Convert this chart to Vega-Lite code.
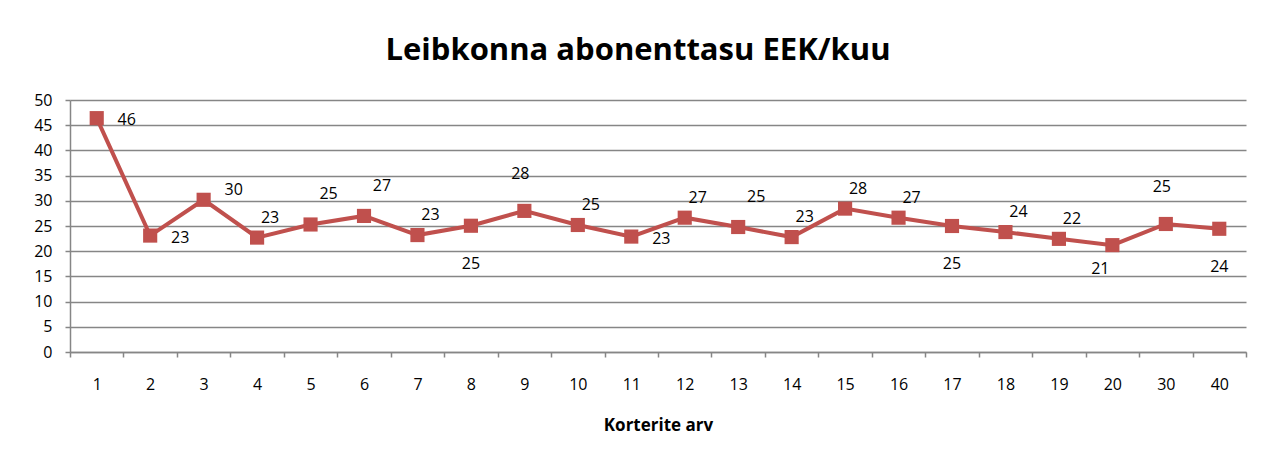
{
  "$schema": "https://vega.github.io/schema/vega-lite/v6.json",
  "autosize": {"type": "none"},
  "width": 1176,
  "height": 252,
  "padding": {"left": 70, "top": 100, "right": 25, "bottom": 105},
  "background": "white",
  "config": {
    "font": "Open Sans",
    "view": {"stroke": null}
  },
  "title": {
    "text": "Leibkonna abonenttasu EEK/kuu",
    "font": "Open Sans",
    "fontSize": 31,
    "fontWeight": "bold",
    "color": "black",
    "anchor": "middle",
    "dx": -20,
    "offset": 25
  },
  "data": {
    "values": [
      {"k": "1", "v": 46.4},
      {"k": "2", "v": 23.1},
      {"k": "3", "v": 30.2},
      {"k": "4", "v": 22.7},
      {"k": "5", "v": 25.3},
      {"k": "6", "v": 27.0},
      {"k": "7", "v": 23.2},
      {"k": "8", "v": 25.05},
      {"k": "9", "v": 28.0},
      {"k": "10", "v": 25.2},
      {"k": "11", "v": 22.9},
      {"k": "12", "v": 26.65},
      {"k": "13", "v": 24.8},
      {"k": "14", "v": 22.8},
      {"k": "15", "v": 28.45},
      {"k": "16", "v": 26.65},
      {"k": "17", "v": 25.0},
      {"k": "18", "v": 23.8},
      {"k": "19", "v": 22.45},
      {"k": "20", "v": 21.2},
      {"k": "30", "v": 25.4},
      {"k": "40", "v": 24.45}
    ]
  },
  "encoding": {
    "x": {
      "field": "k",
      "type": "ordinal",
      "sort": null,
      "scale": {"paddingInner": 0, "paddingOuter": 0},
      "axis": {
        "title": "Korterite arv",
        "titleFont": "Open Sans",
        "titleFontSize": 17,
        "titleFontWeight": "bold",
        "titleColor": "black",
        "titlePadding": 25,
        "labelAngle": 0,
        "labelFont": "Open Sans",
        "labelFontSize": 16,
        "labelColor": "black",
        "labelPadding": 19,
        "tickBand": "extent",
        "tickSize": 5,
        "tickColor": "#868686",
        "tickWidth": 1.5,
        "domainColor": "#868686",
        "domainWidth": 1.5,
        "grid": false
      }
    },
    "y": {
      "field": "v",
      "type": "quantitative",
      "scale": {"domain": [0, 50], "nice": false},
      "axis": {
        "title": null,
        "values": [0, 5, 10, 15, 20, 25, 30, 35, 40, 45, 50],
        "labelFont": "Open Sans",
        "labelFontSize": 16,
        "labelColor": "black",
        "labelPadding": 13,
        "tickSize": 5,
        "tickColor": "#868686",
        "tickWidth": 1.5,
        "domainColor": "#868686",
        "domainWidth": 1.5,
        "grid": true,
        "gridColor": "#868686",
        "gridWidth": 1.5
      }
    }
  },
  "layer": [
    {"mark": {"type": "line", "color": "#C0504D", "strokeWidth": 4}},
    {"mark": {"type": "point", "shape": "square", "filled": true, "opacity": 1, "size": 200, "color": "#C0504D"}},
    {
      "transform": [{"filter": {"field": "k", "oneOf": ["1", "2", "11"]}}],
      "mark": {"type": "text", "dx": 30, "dy": 2, "fontSize": 16, "color": "black", "font": "Open Sans"},
      "encoding": {"text": {"field": "v", "type": "quantitative", "format": ".0f"}}
    },
    {
      "transform": [{"filter": {"field": "k", "oneOf": ["3"]}}],
      "mark": {"type": "text", "dx": 30, "dy": -10, "fontSize": 16, "color": "black", "font": "Open Sans"},
      "encoding": {"text": {"field": "v", "type": "quantitative", "format": ".0f"}}
    },
    {
      "transform": [{"filter": {"field": "k", "oneOf": ["4", "7", "10", "12", "14", "15", "16", "18", "19"]}}],
      "mark": {"type": "text", "dx": 13, "dy": -20, "fontSize": 16, "color": "black", "font": "Open Sans"},
      "encoding": {"text": {"field": "v", "type": "quantitative", "format": ".0f"}}
    },
    {
      "transform": [{"filter": {"field": "k", "oneOf": ["5", "6", "13"]}}],
      "mark": {"type": "text", "dx": 18, "dy": -30, "fontSize": 16, "color": "black", "font": "Open Sans"},
      "encoding": {"text": {"field": "v", "type": "quantitative", "format": ".0f"}}
    },
    {
      "transform": [{"filter": {"field": "k", "oneOf": ["9", "30"]}}],
      "mark": {"type": "text", "dx": -4, "dy": -37, "fontSize": 16, "color": "black", "font": "Open Sans"},
      "encoding": {"text": {"field": "v", "type": "quantitative", "format": ".0f"}}
    },
    {
      "transform": [{"filter": {"field": "k", "oneOf": ["8", "17", "40"]}}],
      "mark": {"type": "text", "dx": 0, "dy": 38, "fontSize": 16, "color": "black", "font": "Open Sans"},
      "encoding": {"text": {"field": "v", "type": "quantitative", "format": ".0f"}}
    },
    {
      "transform": [{"filter": {"field": "k", "oneOf": ["20"]}}],
      "mark": {"type": "text", "dx": -12, "dy": 24, "fontSize": 16, "color": "black", "font": "Open Sans"},
      "encoding": {"text": {"field": "v", "type": "quantitative", "format": ".0f"}}
    }
  ]
}
